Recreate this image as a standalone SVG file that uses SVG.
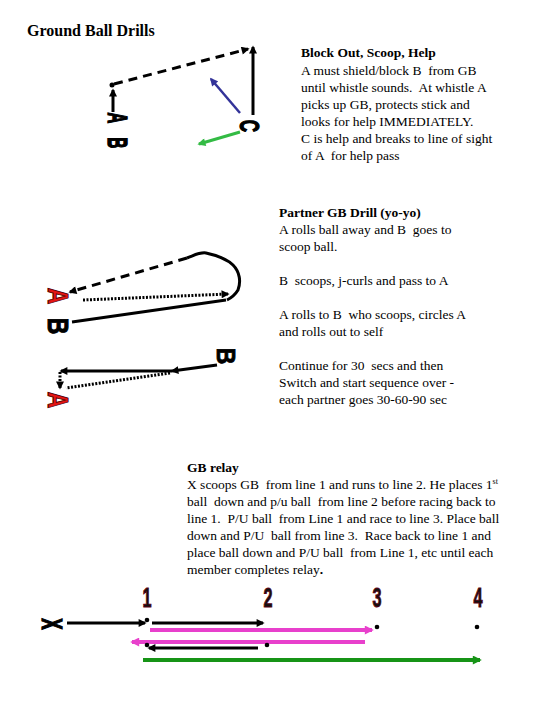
<svg xmlns="http://www.w3.org/2000/svg" width="540" height="720" viewBox="0 0 540 720">
<style>
.t{font-family:"Liberation Serif","Times New Roman",serif;font-size:13.5px;fill:#000;white-space:pre}
.tb{font-weight:bold}
.h{font-family:"Liberation Serif","Times New Roman",serif;font-size:16px;font-weight:bold}
.lt{font-family:"Liberation Sans",Arial,sans-serif;font-weight:bold;fill:#000;stroke:#000;stroke-width:0.8}
.ra{fill:#e41414;stroke:#500;stroke-width:0.8}
.num{font-family:"Liberation Sans",Arial,sans-serif;font-weight:bold;font-size:28px;fill:#111;stroke:#5a0010;stroke-width:1}
.k{stroke:#000;stroke-width:3;fill:none}
.dash{stroke-dasharray:9 6}
.dot{stroke-dasharray:2 1.5}
</style>
<defs>
<marker id="ak" viewBox="0 0 10 10" refX="8" refY="5" markerWidth="10" markerHeight="8" markerUnits="userSpaceOnUse" orient="auto"><path d="M0,0 L10,5 L0,10 z" fill="#000"/></marker>
<marker id="ab" viewBox="0 0 10 10" refX="8" refY="5" markerWidth="10" markerHeight="8" markerUnits="userSpaceOnUse" orient="auto"><path d="M0,0 L10,5 L0,10 z" fill="#333399"/></marker>
<marker id="ag" viewBox="0 0 10 10" refX="8" refY="5" markerWidth="10" markerHeight="8" markerUnits="userSpaceOnUse" orient="auto"><path d="M0,0 L10,5 L0,10 z" fill="#33bb44"/></marker>
<marker id="am" viewBox="0 0 10 10" refX="8" refY="5" markerWidth="11" markerHeight="9" markerUnits="userSpaceOnUse" orient="auto"><path d="M0,0 L10,5 L0,10 z" fill="#e840cc"/></marker>
<marker id="ad" viewBox="0 0 10 10" refX="8" refY="5" markerWidth="11" markerHeight="9" markerUnits="userSpaceOnUse" orient="auto"><path d="M0,0 L10,5 L0,10 z" fill="#169416"/></marker>
</defs>
<rect width="540" height="720" fill="#fff"/>

<text class="h" x="27" y="36">Ground Ball Drills</text>

<g id="text-block-out">
<text class="t tb" x="301" y="57">Block Out, Scoop, Help</text>
<text class="t" x="301" y="75">A must shield/block B  from GB</text>
<text class="t" x="301" y="92">until whistle sounds.  At whistle A</text>
<text class="t" x="301" y="109">picks up GB, protects stick and</text>
<text class="t" x="301" y="126">looks for help IMMEDIATELY.</text>
<text class="t" x="301" y="143">C is help and breaks to line of sight</text>
<text class="t" x="301" y="160">of A  for help pass</text>
</g>

<g id="text-partner">
<text class="t tb" x="279" y="217">Partner GB Drill (yo-yo)</text>
<text class="t" x="279" y="234">A rolls ball away and B  goes to</text>
<text class="t" x="279" y="251">scoop ball.</text>
<text class="t" x="279" y="285">B  scoops, j-curls and pass to A</text>
<text class="t" x="279" y="319">A rolls to B  who scoops, circles A</text>
<text class="t" x="279" y="336">and rolls out to self</text>
<text class="t" x="279" y="370">Continue for 30  secs and then</text>
<text class="t" x="279" y="387">Switch and start sequence over -</text>
<text class="t" x="279" y="404">each partner goes 30-60-90 sec</text>
</g>

<g id="text-relay">
<text class="t tb" x="187" y="472">GB relay</text>
<text class="t" x="187" y="489">X scoops GB  from line 1 and runs to line 2. He places 1<tspan font-size="8" dy="-5">st</tspan></text>
<text class="t" x="187" y="506">ball  down and p/u ball  from line 2 before racing back to</text>
<text class="t" x="187" y="523">line 1.  P/U ball  from Line 1 and race to line 3. Place ball</text>
<text class="t" x="187" y="540">down and P/U  ball from line 3.  Race back to line 1 and</text>
<text class="t" x="187" y="557">place ball down and P/U ball  from Line 1, etc until each</text>
<text class="t" x="187" y="574">member completes relay<tspan font-weight="bold">.</tspan></text>
</g>

<g id="connectors">
<line class="k dash" x1="114" y1="84" x2="248" y2="49" marker-end="url(#ak)"/>
<line class="k" x1="253" y1="115" x2="253" y2="47" marker-end="url(#ak)"/>
<line class="k" x1="113" y1="112" x2="113" y2="90" marker-end="url(#ak)"/>
<line x1="240" y1="113" x2="211" y2="79" stroke="#333399" stroke-width="2.5" marker-end="url(#ab)"/>
<line x1="240" y1="132" x2="199" y2="144" stroke="#33bb44" stroke-width="3" marker-end="url(#ag)"/>
<path class="k" d="M187,258 C195,255 200,252 206,253 C215,255 226,258 233,265 C240,272 241,282 238,290 C235,295 231,298 227,300"/>
<line class="k dash" x1="187" y1="258" x2="70" y2="292" marker-end="url(#ak)"/>
<line class="k dot" x1="83" y1="300" x2="228" y2="294" marker-end="url(#ak)"/>
<line class="k" x1="72" y1="322" x2="226" y2="300" stroke-width="2.5"/>
<line class="k" x1="217" y1="365" x2="172" y2="371" marker-end="url(#ak)"/>
<line class="k" x1="172" y1="371" x2="61" y2="371" marker-end="url(#ak)"/>
<line class="k dot" x1="170" y1="373" x2="66" y2="388"/>
<line class="k dot" x1="60" y1="372" x2="60" y2="388" stroke-width="2" marker-end="url(#ak)"/>
<line class="k" x1="67" y1="623" x2="145" y2="623" marker-end="url(#ak)"/>
<line class="k" x1="152" y1="623" x2="263" y2="623" marker-end="url(#ak)"/>
<line x1="150" y1="630" x2="372" y2="630" stroke="#e840cc" stroke-width="4" marker-end="url(#am)"/>
<line x1="365" y1="642" x2="132" y2="642" stroke="#e840cc" stroke-width="4" marker-end="url(#am)"/>
<line class="k" x1="258" y1="648" x2="149" y2="648" marker-end="url(#ak)"/>
<line x1="143" y1="660" x2="480" y2="660" stroke="#169416" stroke-width="4" marker-end="url(#ad)"/>
</g>

<g id="node-drill1-dot"><circle cx="112" cy="85" r="2.5" fill="#000"/></g>
<g id="node-drill1-A"><text class="lt" font-size="15" transform="translate(118,118) rotate(90) scale(1,1.8)" text-anchor="middle" y="5.4">A</text></g>
<g id="node-drill1-B"><text class="lt" font-size="15" transform="translate(118,143) rotate(90) scale(1,1.8)" text-anchor="middle" y="5.4">B</text></g>
<g id="node-drill1-C"><text class="lt" font-size="17" transform="translate(250,126) rotate(90) scale(1,1.6)" text-anchor="middle" y="6.1">C</text></g>

<g id="node-drill2-A1"><text class="lt ra" font-size="23" transform="translate(58,296) rotate(90) scale(1,1.25)" text-anchor="middle" y="8.3">A</text></g>
<g id="node-drill2-B1"><text class="lt" font-size="23" transform="translate(59,326) rotate(90) scale(1,1.3)" text-anchor="middle" y="8.3">B</text></g>
<g id="node-drill2-B2"><text class="lt" font-size="23" transform="translate(226,356) rotate(90) scale(1,1.1)" text-anchor="middle" y="8.3">B</text></g>
<g id="node-drill2-A2"><text class="lt ra" font-size="23" transform="translate(58,400) rotate(90) scale(1,1.25)" text-anchor="middle" y="8.3">A</text></g>

<g id="node-relay-X"><text class="lt" font-size="17" transform="translate(52,624) rotate(90) scale(1,1.7)" text-anchor="middle" y="6.1">X</text></g>
<g id="node-line1"><text class="num" transform="translate(147,607) scale(0.58,1)" text-anchor="middle">1</text><circle cx="147" cy="620" r="2.3"/><circle cx="147" cy="645" r="2.3"/></g>
<g id="node-line2"><text class="num" transform="translate(268,607) scale(0.58,1)" text-anchor="middle">2</text><circle cx="267" cy="645" r="2.3"/></g>
<g id="node-line3"><text class="num" transform="translate(377,607) scale(0.58,1)" text-anchor="middle">3</text><circle cx="377" cy="627" r="2.3"/></g>
<g id="node-line4"><text class="num" transform="translate(478,607) scale(0.58,1)" text-anchor="middle">4</text><circle cx="477" cy="627" r="2.3"/></g>
</svg>
